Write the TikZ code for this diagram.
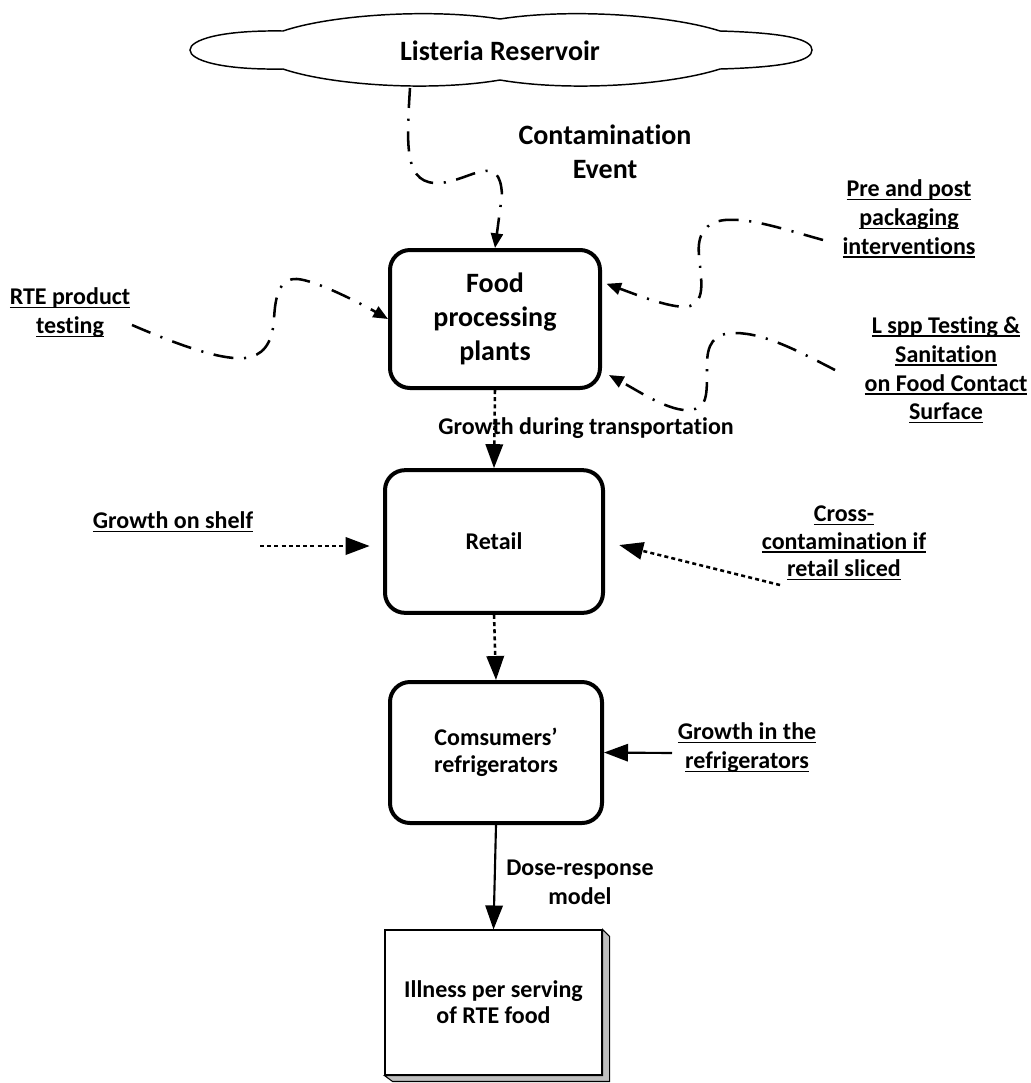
\documentclass[tikz,border=0pt]{standalone}
\usepackage{fontspec}
\setmainfont{Carlito}[Ligatures=NoCommon]
\usetikzlibrary{arrows.meta}

% underlined label line with a fixed rule below the baseline
\newsavebox\undrbox
\newcommand\undr[1]{\sbox\undrbox{#1}\rlap{\rule[-2.6pt]{\wd\undrbox}{1.1pt}}\usebox\undrbox}

\begin{document}
\begin{tikzpicture}[x=0.75pt,y=-0.75pt,
  txt/.style={font=\bfseries\fontsize{18}{21.6}\selectfont, align=center, inner sep=0pt},
  bigtxt/.style={font=\bfseries\fontsize{21}{25.5}\selectfont, align=center, inner sep=0pt},
  stage/.style={draw, line width=3pt, rounded corners=15pt, align=center, inner sep=0pt},
  dashdot/.style={line width=1.9pt, dash pattern=on 15pt off 8pt on 1.6pt off 8pt,
                  -{Triangle[length=11pt,width=9pt]}},
  dotline/.style={line width=1.9pt, dash pattern=on 3pt off 2.4pt,
                  -{Triangle[length=18pt,width=13pt]}},
  solidline/.style={line width=1.6pt, -{Triangle[length=18pt,width=13pt]}},
]
\useasboundingbox (0,0) rectangle (1031,1083);

% reservoir cloud
\draw[line width=1.1pt, fill=white]
  (283,31) .. controls (330,15) and (430,8) .. (500,19)
  .. controls (570,8) and (670,15) .. (720,31)
  .. controls (790,33) and (812,40) .. (812,50)
  .. controls (812,60) and (790,67) .. (720,69)
  .. controls (670,85) and (570,92) .. (500,80)
  .. controls (430,92) and (330,85) .. (283,69)
  .. controls (220,70) and (190,60) .. (190,50)
  .. controls (190,40) and (220,30) .. (283,31) -- cycle;
\node[bigtxt] (reservoir) at (500,51) {Listeria Reservoir};
\coordinate (cloudfoot) at (410,88);

% stages of the chain
\node[stage, bigtxt, minimum width=157.5pt, minimum height=103.5pt] (food) at (495,319)
  {Food\\processing\\plants};
\node[stage, txt, minimum width=163.5pt, minimum height=107pt] (retail) at (494,541.5) {Retail};
\node[stage, txt, font=\bfseries\fontsize{18}{20}\selectfont,
      minimum width=159pt, minimum height=105.75pt] (cons) at (496,752.5)
  {Comsumers’\\refrigerators};
\node[draw, line width=0.8pt, fill=white, txt, font=\bfseries\fontsize{18}{19.5}\selectfont,
      minimum width=162.75pt, minimum height=108.75pt] (ill) at (493.5,1002.5)
  {Illness per serving\\of RTE food};
\draw[line width=0.8pt, fill=black!25]
  (ill.north east) -- ++(7,7) -- ++(0,145) -- ++(-217,0) -- (ill.south west)
  -- (ill.south east) -- cycle;

% labels
\node[bigtxt] (contam) at (605,152) {Contamination\\Event};
\node[txt] (rte) at (70,313) {\undr{RTE product}\\\undr{testing}};
\node[txt] (prepost) at (909,219) {\undr{Pre and post}\\\undr{packaging}\\\undr{interventions}};
\node[txt] (lspp) at (946,370) {\undr{L spp Testing \&}\\\undr{Sanitation}\\\undr{on Food Contact}\\\undr{Surface}};
\node[txt] (transport) at (586,428) {Growth during transportation};
\node[txt] (shelf) at (173,522) {\undr{Growth on shelf}};
\node[txt, font=\bfseries\fontsize{18}{20.6}\selectfont] (cross) at (844,543)
  {\undr{Cross-}\\\undr{contamination if}\\\undr{retail sliced}};
\node[txt] (fridge) at (747,748) {\undr{Growth in the}\\\undr{refrigerators}};
\node[txt] (dose) at (580,882) {Dose-response\\model};

% free ends of the side connectors
\coordinate (rtefoot) at (132,325);
\coordinate (prefoot) at (823,240);
\coordinate (lsppfoot) at (835,370);
\coordinate (shelffoot) at (260,546);
\coordinate (crossfoot) at (780,585);
\coordinate (fridgefoot) at (672,753);

% contamination paths into the plant
\draw[dashdot] (cloudfoot) .. controls (406,150) and (405,185) .. (440,183)
  .. controls (470,181) and (500,150) .. (502,195) -- (food.north);
\draw[dashdot] (rtefoot) .. controls (190,350) and (225,360) .. (245,358)
  .. controls (262,356) and (272,345) .. (274,320)
  .. controls (275,295) and (280,278) .. (297,279)
  .. controls (315,280) and (360,303) .. (food.west);
\draw[dashdot, shorten >=3.5pt] (prefoot) .. controls (780,228) and (750,218) .. (725,220)
  .. controls (705,222) and (697,235) .. (699,255)
  .. controls (701,280) and (706,300) .. (690,306)
  .. controls (675,310) and (640,296) .. (food.19);
\draw[dashdot, shorten >=6pt] (lsppfoot) .. controls (800,352) and (765,333) .. (735,333)
  .. controls (713,333) and (707,345) .. (707,365)
  .. controls (707,395) and (708,408) .. (690,410)
  .. controls (670,412) and (640,392) .. (food.-26);

% flow along the chain
\draw[dotline] (food.south) -- (retail.north);
\draw[dotline] (retail.south) -- (cons.north);
\draw[solidline] (cons.south) -- (ill.north);
\draw[dotline, shorten >=10pt] (shelffoot) -- (shelffoot -| retail.west);
\draw[dotline, shorten >=11pt] (crossfoot) -- (retail.east);
\draw[solidline] (fridgefoot) -- (cons.east);
\end{tikzpicture}
\end{document}
